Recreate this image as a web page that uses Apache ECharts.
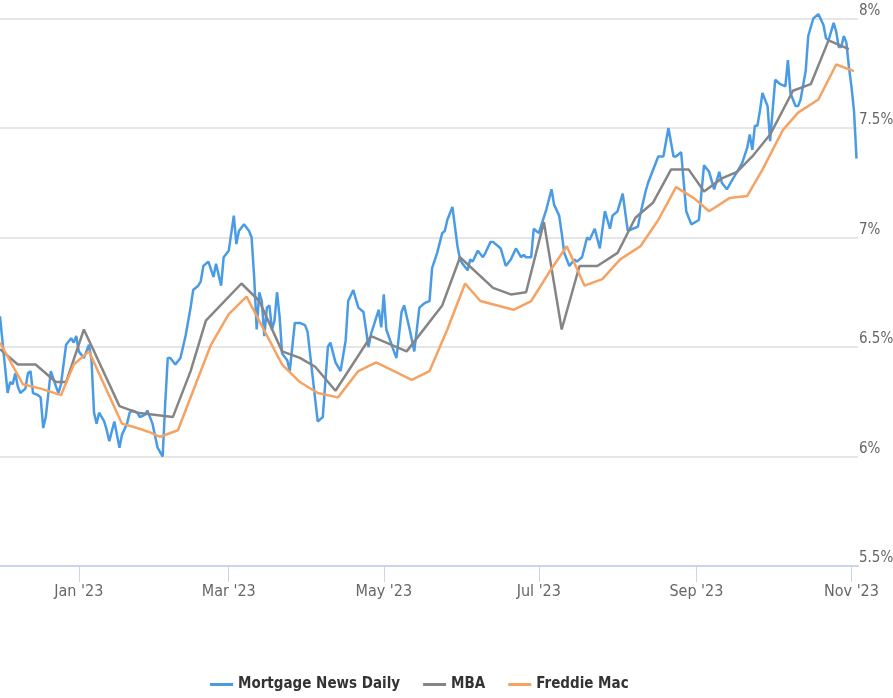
<!DOCTYPE html>
<html>
<head>
<meta charset="utf-8">
<script src="https://cdn.jsdelivr.net/npm/echarts@6/dist/echarts.min.js"></script>
<style>
html, body { margin: 0; padding: 0; background: #fff; }
#chart { width: 893px; height: 698px; }
</style>
</head>
<body>
<div id="chart"></div>
<script>
// 30yr fixed rates
var mndDates = [
  '2022-12-01','2022-12-04','2022-12-05','2022-12-06','2022-12-07','2022-12-08','2022-12-09','2022-12-11',
  '2022-12-12','2022-12-13','2022-12-14','2022-12-16','2022-12-17','2022-12-18','2022-12-19','2022-12-21',
  '2022-12-23','2022-12-24','2022-12-25','2022-12-27','2022-12-29','2022-12-30','2022-12-31',
  '2023-01-01','2023-01-03','2023-01-04','2023-01-05','2023-01-06','2023-01-07','2023-01-08','2023-01-09',
  '2023-01-11','2023-01-12','2023-01-13','2023-01-15','2023-01-17','2023-01-18','2023-01-20','2023-01-21',
  '2023-01-22','2023-01-24','2023-01-25','2023-01-27','2023-01-28','2023-01-30',
  '2023-02-01','2023-02-03','2023-02-04','2023-02-05','2023-02-06','2023-02-08','2023-02-10','2023-02-12',
  '2023-02-14','2023-02-15','2023-02-17','2023-02-18','2023-02-19','2023-02-21','2023-02-23','2023-02-24',
  '2023-02-26','2023-02-27',
  '2023-03-01','2023-03-02','2023-03-03','2023-03-04','2023-03-05','2023-03-07','2023-03-09','2023-03-10',
  '2023-03-11','2023-03-12','2023-03-13','2023-03-14','2023-03-15','2023-03-16','2023-03-17','2023-03-18',
  '2023-03-19','2023-03-20','2023-03-21','2023-03-22','2023-03-24','2023-03-25','2023-03-26','2023-03-27',
  '2023-03-29','2023-03-31',
  '2023-04-01','2023-04-05','2023-04-07','2023-04-09','2023-04-10','2023-04-12','2023-04-14','2023-04-16',
  '2023-04-17','2023-04-19','2023-04-21','2023-04-23','2023-04-25','2023-04-26','2023-04-29','2023-04-30',
  '2023-05-01','2023-05-02','2023-05-05','2023-05-06','2023-05-08','2023-05-09','2023-05-11','2023-05-13',
  '2023-05-15','2023-05-17','2023-05-19','2023-05-20','2023-05-22','2023-05-24','2023-05-25','2023-05-26',
  '2023-05-28','2023-05-30','2023-05-31',
  '2023-06-01','2023-06-03','2023-06-04','2023-06-05','2023-06-07','2023-06-09','2023-06-10','2023-06-12',
  '2023-06-13','2023-06-15','2023-06-16','2023-06-18','2023-06-20','2023-06-22','2023-06-24','2023-06-25',
  '2023-06-26','2023-06-28','2023-06-29',
  '2023-07-01','2023-07-04','2023-07-06','2023-07-07','2023-07-09','2023-07-10','2023-07-11','2023-07-13',
  '2023-07-15','2023-07-16','2023-07-18','2023-07-20','2023-07-21','2023-07-23','2023-07-25','2023-07-27',
  '2023-07-29','2023-07-30',
  '2023-08-01','2023-08-03','2023-08-05','2023-08-07','2023-08-09','2023-08-10','2023-08-12','2023-08-13',
  '2023-08-16','2023-08-17','2023-08-19','2023-08-21','2023-08-23','2023-08-24','2023-08-26','2023-08-28',
  '2023-08-30',
  '2023-09-02','2023-09-04','2023-09-06','2023-09-08','2023-09-10','2023-09-11','2023-09-13','2023-09-14',
  '2023-09-16','2023-09-17','2023-09-19','2023-09-21','2023-09-22','2023-09-23','2023-09-24','2023-09-25',
  '2023-09-26','2023-09-27','2023-09-29','2023-09-30',
  '2023-10-02','2023-10-04','2023-10-06','2023-10-07','2023-10-08','2023-10-10','2023-10-11','2023-10-12',
  '2023-10-14','2023-10-15','2023-10-17','2023-10-19','2023-10-21','2023-10-22','2023-10-23','2023-10-25',
  '2023-10-26','2023-10-27','2023-10-28','2023-10-29','2023-10-30','2023-10-31',
  '2023-11-01','2023-11-02','2023-11-03'
];
var mndRates = [
  6.64,6.29,6.34,6.33,6.38,6.32,6.29,6.31,
  6.38,6.39,6.29,6.28,6.27,6.13,6.18,6.39,
  6.32,6.29,6.33,6.51,6.54,6.52,6.55,
  6.48,6.45,6.48,6.51,6.44,6.20,6.15,6.20,
  6.16,6.12,6.07,6.16,6.04,6.10,6.15,6.20,
  6.21,6.20,6.18,6.19,6.21,6.15,
  6.04,6.00,6.24,6.45,6.45,6.42,6.45,6.55,
  6.68,6.76,6.78,6.80,6.87,6.89,6.82,6.88,
  6.78,6.91,
  6.94,7.02,7.10,6.97,7.03,7.06,7.03,7.00,
  6.82,6.58,6.75,6.71,6.55,6.68,6.69,6.58,
  6.62,6.75,6.64,6.47,6.44,6.39,6.50,6.61,
  6.61,6.60,
  6.57,6.16,6.18,6.50,6.52,6.43,6.39,6.53,
  6.71,6.76,6.68,6.66,6.50,6.56,6.67,6.59,
  6.74,6.58,6.48,6.45,6.66,6.69,6.59,6.48,
  6.68,6.70,6.71,6.86,6.93,7.02,7.03,7.08,
  7.14,6.96,6.90,
  6.88,6.85,6.90,6.89,6.94,6.91,6.93,6.98,
  6.98,6.96,6.95,6.87,6.90,6.95,6.91,6.92,
  6.91,6.91,7.04,
  7.02,7.13,7.22,7.15,7.10,7.02,6.93,6.87,
  6.90,6.89,6.91,7.00,6.99,7.04,6.95,7.12,
  7.04,7.10,
  7.12,7.20,7.03,7.04,7.05,7.11,7.21,7.25,
  7.34,7.37,7.37,7.50,7.37,7.37,7.39,7.12,
  7.06,
  7.08,7.33,7.30,7.22,7.30,7.25,7.22,7.24,
  7.28,7.30,7.34,7.41,7.47,7.40,7.51,7.51,
  7.58,7.66,7.60,7.44,
  7.72,7.70,7.69,7.81,7.66,7.60,7.60,7.63,
  7.76,7.92,8.00,8.02,7.97,7.91,7.90,7.98,
  7.94,7.87,7.87,7.92,7.89,7.78,
  7.69,7.58,7.36
];

var mbaDates = [
  '2022-12-01','2022-12-08','2022-12-15','2022-12-23','2022-12-27','2023-01-03','2023-01-09','2023-01-17',
  '2023-01-24','2023-02-07','2023-02-14','2023-02-20','2023-03-06','2023-03-13','2023-03-22','2023-03-29',
  '2023-04-04','2023-04-12','2023-04-26','2023-05-10','2023-05-24','2023-05-31','2023-06-13','2023-06-20',
  '2023-06-26','2023-07-03','2023-07-10','2023-07-17','2023-07-24','2023-08-01','2023-08-08','2023-08-15',
  '2023-08-22','2023-08-29','2023-09-04','2023-09-11','2023-09-17','2023-09-23','2023-09-30','2023-10-09',
  '2023-10-16','2023-10-23','2023-10-31'
];
var mbaRates = [
  6.49,6.42,6.42,6.34,6.34,6.58,6.43,6.23,
  6.20,6.18,6.39,6.62,6.79,6.71,6.48,6.45,
  6.41,6.30,6.55,6.48,6.69,6.91,6.77,6.74,
  6.75,7.07,6.58,6.87,6.87,6.93,7.09,7.16,
  7.31,7.31,7.21,7.27,7.30,7.37,7.47,7.67,
  7.70,7.90,7.86
];

var fmDates = [
  '2022-12-01','2022-12-10','2022-12-17','2022-12-25','2022-12-30','2023-01-05','2023-01-18','2023-01-24',
  '2023-01-29','2023-02-02','2023-02-09','2023-02-22','2023-03-01','2023-03-08','2023-03-22','2023-03-29',
  '2023-04-05','2023-04-13','2023-04-21','2023-04-28','2023-05-12','2023-05-19','2023-05-26','2023-06-02',
  '2023-06-08','2023-06-21','2023-06-28','2023-07-05','2023-07-12','2023-07-19','2023-07-26','2023-08-02',
  '2023-08-10','2023-08-17','2023-08-24','2023-08-31','2023-09-06','2023-09-14','2023-09-21','2023-09-27',
  '2023-10-05','2023-10-11','2023-10-19','2023-10-26','2023-11-02'
];
var fmRates = [
  6.52,6.33,6.31,6.28,6.42,6.48,6.15,6.13,
  6.11,6.09,6.12,6.51,6.65,6.73,6.42,6.34,
  6.29,6.27,6.39,6.43,6.35,6.39,6.58,6.79,
  6.71,6.67,6.71,6.84,6.96,6.78,6.81,6.90,
  6.96,7.08,7.23,7.18,7.12,7.18,7.19,7.31,
  7.49,7.57,7.63,7.79,7.76
];

var tickDates = ['2023-01-01', '2023-03-01', '2023-05-01', '2023-07-01', '2023-09-01', '2023-11-01'];
var tickLabels = ["Jan '23", "Mar '23", "May '23", "Jul '23", "Sep '23", "Nov '23"];

var seriesNames = ['Mortgage News Daily', 'MBA', 'Freddie Mac'];
var seriesColors = ['#4a9be6', '#858585', '#f5a263'];

var fontFamily = "'DejaVu Sans Condensed', sans-serif";

function toTime(d) {
  return echarts.time.parse(d).getTime();
}

function zip(dates, rates) {
  var out = [];
  for (var i = 0; i < dates.length; i++) {
    out.push([toTime(dates[i]), rates[i]]);
  }
  return out;
}

var tickValues = tickDates.map(toTime);

function lineSeries(i, data) {
  return {
    name: seriesNames[i],
    type: 'line',
    data: data,
    showSymbol: false,
    clip: false,
    color: seriesColors[i],
    lineStyle: { width: 2.5, color: seriesColors[i] }
  };
}

var option = {
  animation: false,
  backgroundColor: '#fff',
  grid: { left: 0, right: 35, top: 18.5, bottom: 132, outerBoundsMode: 'none' },
  legend: {
    data: seriesNames,
    left: 205,
    top: 672,
    icon: 'rect',
    itemWidth: 23,
    itemHeight: 3,
    itemGap: 23,
    textStyle: { color: '#333', fontSize: 15, fontWeight: 'bold', fontFamily: fontFamily }
  },
  // timestamps on a value axis, so the ticks can sit on the month starts
  xAxis: {
    type: 'value',
    min: toTime('2022-12-01'),
    max: toTime('2023-11-03 14:00'),
    axisLine: { lineStyle: { color: '#ccd6eb', width: 2 } },
    axisTick: { show: true, customValues: tickValues, length: 16, lineStyle: { color: '#ccd6eb', width: 1 } },
    axisLabel: {
      customValues: tickValues,
      margin: 18,
      color: '#666',
      fontSize: 16,
      fontFamily: fontFamily,
      formatter: function (v) {
        var i = tickValues.indexOf(v);
        return i >= 0 ? tickLabels[i] : '';
      }
    },
    splitLine: { show: false }
  },
  yAxis: {
    type: 'value',
    position: 'right',
    min: 5.5,
    max: 8,
    interval: 0.5,
    axisLine: { show: false },
    axisTick: { show: false },
    splitLine: { lineStyle: { color: '#e6e6e6', width: 2 } },
    axisLabel: {
      margin: 1,
      align: 'left',
      verticalAlign: 'bottom',
      color: '#666',
      fontSize: 15,
      fontFamily: fontFamily,
      formatter: function (v) {
        return (v % 1 === 0 ? v.toFixed(0) : v.toFixed(1)) + '%';
      }
    }
  },
  series: [
    lineSeries(0, zip(mndDates, mndRates)),
    lineSeries(1, zip(mbaDates, mbaRates)),
    lineSeries(2, zip(fmDates, fmRates))
  ]
};

var chart = echarts.init(document.getElementById('chart'));
chart.setOption(option);
</script>
</body>
</html>
